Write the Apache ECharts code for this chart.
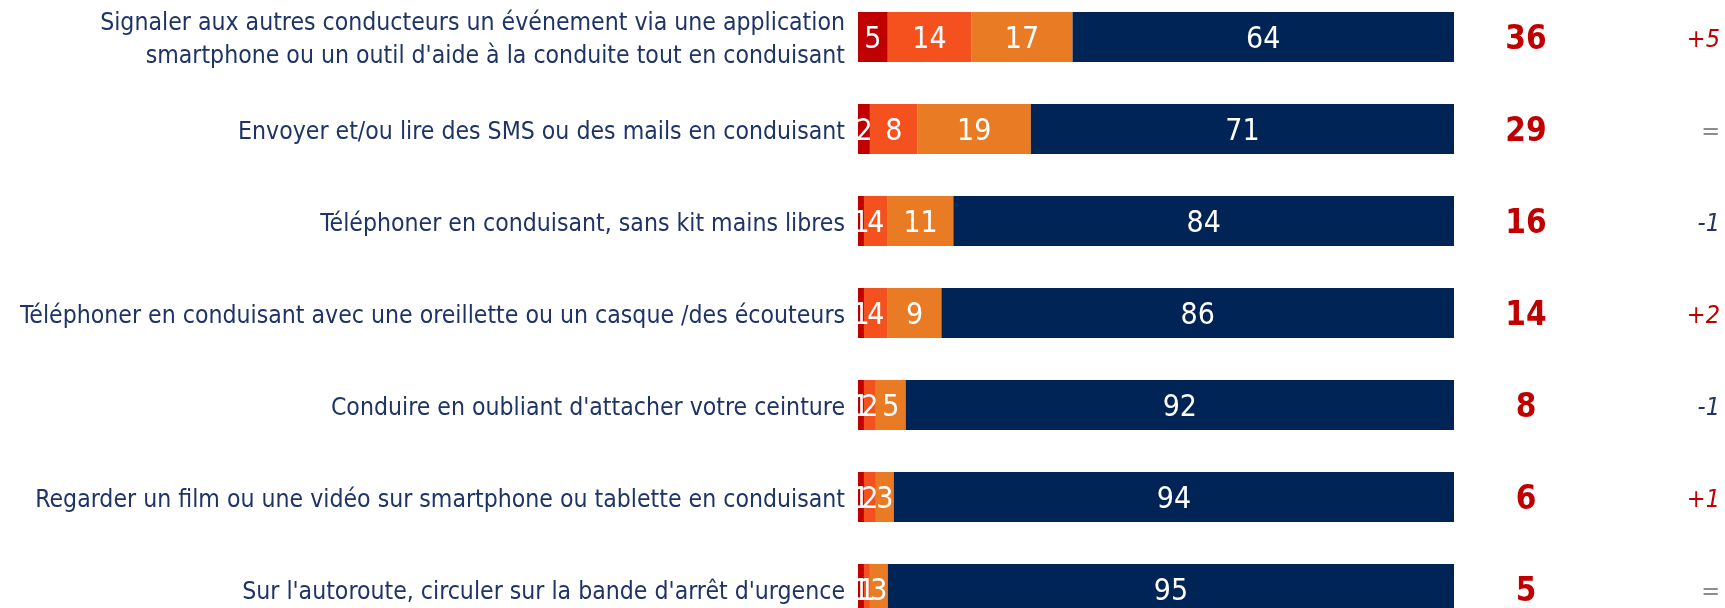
<!DOCTYPE html>
<html>
<head>
<meta charset="utf-8">
<script src="https://cdn.jsdelivr.net/npm/echarts@6/dist/echarts.min.js"></script>
<style>
html,body{margin:0;padding:0;background:#fff;}
#chart{width:1725px;height:608px;}
</style>
</head>
<body>
<div id="chart"></div>
<script>
const categories = [
  "Signaler aux autres conducteurs un événement via une application\nsmartphone ou un outil d'aide à la conduite tout en conduisant",
  "Envoyer et/ou lire des SMS ou des mails en conduisant",
  "Téléphoner en conduisant, sans kit mains libres",
  "Téléphoner en conduisant avec une oreillette ou un casque /des écouteurs",
  "Conduire en oubliant d'attacher votre ceinture",
  "Regarder un film ou une vidéo sur smartphone ou tablette en conduisant",
  "Sur l'autoroute, circuler sur la bande d'arrêt d'urgence"
];
const seriesA = [5, 2, 1, 1, 1, 1, 1];
const seriesB = [14, 8, 4, 4, 2, 2, 1];
const seriesC = [17, 19, 11, 9, 5, 3, 3];
const seriesD = [64, 71, 84, 86, 92, 94, 95];
const totals = [36, 29, 16, 14, 8, 6, 5];
const changes = ["+5", "=", "-1", "+2", "-1", "+1", "="];

const FONT = "'DejaVu Sans Condensed', 'Liberation Sans Narrow', Roboto, sans-serif";
const colors = ['#c00000', '#f4511e', '#e87b24', '#012456'];

const chart = echarts.init(document.getElementById('chart'), null, {renderer: 'canvas'});

function mk(name, data, color) {
  return {
    name: name, type: 'bar', stack: 'total', data: data, barWidth: 50,
    itemStyle: {color: color},
    label: {show: true, position: 'inside', offset: [0, 3], color: '#fff', fontFamily: FONT, fontSize: 30, fontWeight: 'normal'},
    emphasis: {disabled: true}
  };
}

chart.setOption({
  animation: false,
  grid: {left: 858, right: 271, top: -9, height: 644, containLabel: false, outerBoundsMode: 'none'},
  xAxis: {type: 'value', min: 0, max: 100, show: false},
  yAxis: [
    {
      type: 'category', data: categories, inverse: true,
      axisLine: {show: false}, axisTick: {show: false},
      axisLabel: {
        margin: 13,
        formatter: function (v) { return v.split('\n').map(l => '{a|' + l + '}').join('\n'); },
        rich: {
          a: {color: '#1f3466', fontFamily: FONT, fontSize: 24.6, lineHeight: 33, align: 'right', padding: [7, 0, 0, 0]}
        }
      }
    },
    {
      type: 'category', data: categories.map((c, i) => i), inverse: true, position: 'right',
      axisLine: {show: false}, axisTick: {show: false},
      axisLabel: {
        margin: 42,
        padding: [6, 0, 0, 0],
        formatter: function (v, i) {
          const ch = changes[i];
          const st = ch.startsWith('+') ? 'p' : (ch.startsWith('-') ? 'm' : 'e');
          return '{t|' + totals[i] + '}{' + st + '|' + ch + '}';
        },
        rich: {
          t: {width: 60, align: 'center', color: '#c00000', fontFamily: FONT, fontSize: 33, fontWeight: 'bold'},
          p: {width: 164, align: 'right', color: '#c00000', fontFamily: FONT, fontSize: 25, fontStyle: 'italic'},
          m: {width: 164, align: 'right', color: '#1f3466', fontFamily: FONT, fontSize: 25, fontStyle: 'italic'},
          e: {width: 164, align: 'right', color: '#8c8c8c', fontFamily: FONT, fontSize: 25, fontStyle: 'italic'}
        }
      }
    }
  ],
  series: [
    mk('a', seriesA, colors[0]),
    mk('b', seriesB, colors[1]),
    mk('c', seriesC, colors[2]),
    mk('d', seriesD, colors[3])
  ]
});
</script>
</body>
</html>
